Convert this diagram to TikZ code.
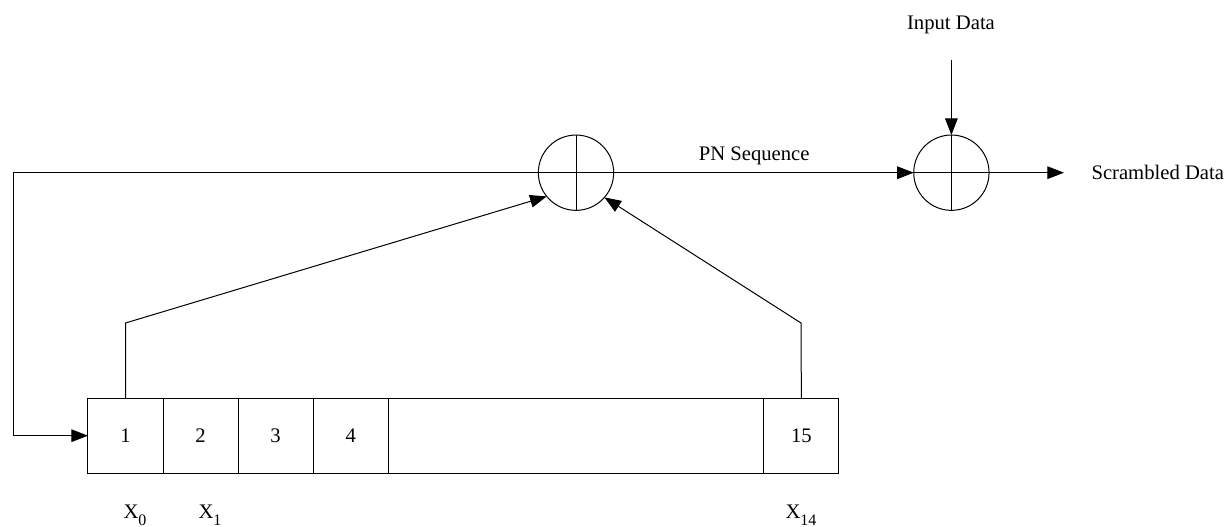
\documentclass[tikz,border=0pt]{standalone}
\usepackage{fontspec}
\setmainfont{Liberation Serif}
\usetikzlibrary{arrows.meta,positioning}
\tikzset{font=\fontsize{15.5}{18}\selectfont}
\tikzset{regcell/.style={draw,rectangle,minimum width=56.3pt,minimum height=56.3pt,inner sep=0pt,outer sep=0pt}}
\tikzset{xorgate/.style={draw,circle,minimum size=56.5pt,inner sep=0pt,outer sep=0pt}}
\tikzset{sigline/.style={line width=.75pt,-{Triangle[length=12.5pt,width=9.5pt]}}}
\newcommand{\subX}[1]{X\raisebox{-5.2pt}{\fontsize{12}{12}\selectfont #1}}

\begin{document}
\begin{tikzpicture}[x=.75pt,y=-.75pt,line width=.75pt,node distance=0pt]
  \useasboundingbox (0,0) rectangle (1228,527);
  \node[xorgate] (xorfb) at (576,172.7) {};
  \node[xorgate] (xorout) at (951.4,172.7) {};
  \foreach \gate in {xorfb,xorout}{
    \draw (\gate.north)--(\gate.south);
    \draw (\gate.west)--(\gate.east);
  }
  \node[regcell] (cell1) at (125.5,435.7) {1};
  \node[regcell,right=of cell1] (cell2) {2};
  \node[regcell,right=of cell2] (cell3) {3};
  \node[regcell,right=of cell3] (cell4) {4};
  \node[regcell,right=of cell4,minimum width=281.7pt] (cellgap) {};
  \node[regcell,right=of cellgap] (cell15) {15};
  \coordinate (fbcorner1) at (13,172.7);
  \coordinate (fbcorner2) at (13,435.7);
  \coordinate (tapa) at (125.5,323);
  \coordinate (tapb) at (801,323);
  \coordinate (indata) at (951.4,60);
  \coordinate (outdata) at (1064,172.7);
  \draw[sigline] (xorfb.west)--(fbcorner1)--(fbcorner2)--(cell1.west);
  \draw[sigline] (cell1.north)--(tapa)--(xorfb.219);
  \draw[sigline] (cell15.north)--(tapb)--(xorfb.319);
  \draw[sigline] (xorfb.east)--(xorout.west);
  \draw[sigline] (indata)--(xorout.north);
  \draw[sigline] (xorout.east)--(outdata);
  \node[anchor=base,inner sep=0pt] (inlabel) at (951,29.5) {Input Data};
  \node[anchor=base,inner sep=0pt] (pnlabel) at (754.2,161) {PN Sequence};
  \node[anchor=base west,inner sep=0pt] (outlabel) at (1091,179.5) {Scrambled Data};
  \node[anchor=base west,inner sep=0pt] (x0) at (123,518.5) {\subX{0}};
  \node[anchor=base west,inner sep=0pt] (x1) at (198,518.5) {\subX{1}};
  \node[anchor=base west,inner sep=0pt] (x14) at (785,518.5) {\subX{14}};
\end{tikzpicture}
\end{document}
